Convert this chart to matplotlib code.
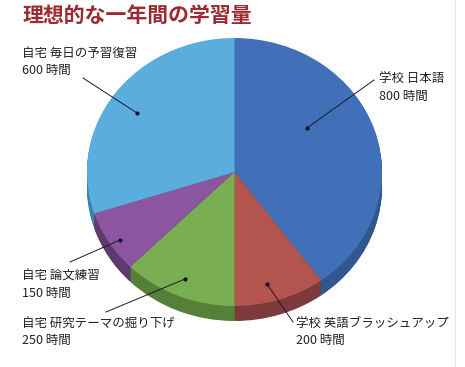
import matplotlib
matplotlib.use("Agg")
import matplotlib.pyplot as plt

plt.rcParams['font.family'] = ['Noto Sans CJK JP', 'DejaVu Sans']

# データ（時間）
categories = ["学校 日本語", "学校 英語ブラッシュアップ", "自宅 研究テーマの掘り下げ",
              "自宅 論文練習", "自宅 毎日の予習復習"]
hours = [800, 200, 250, 150, 600]
unit = "時間"
title = "理想的な一年間の学習量"

top_colors = ["#4170b8", "#b4544f", "#7aae52", "#8b55a0", "#5badde"]
side_colors = ["#30588f", "#7d3a3a", "#567f3a", "#5d3a6c", "#3f80aa"]

W, H = 465, 367
cx, cy, rx, ry, depth = 234.5, 172.0, 147.5, 134.0, 15

fig = plt.figure(figsize=(W / 100, H / 100), dpi=100)
fig.patch.set_facecolor("white")

# 円グラフ用の軸（楕円に引き伸ばす）
ax_pie = fig.add_axes([(cx - rx) / W, (H - (cy + ry + depth)) / H,
                       2 * rx / W, (2 * ry + depth) / H])
for k in range(depth, 0, -1):
    ax_pie.pie(hours, colors=side_colors, startangle=90, counterclock=False,
               center=(0, -k / ry), wedgeprops=dict(linewidth=0))
ax_pie.pie(hours, colors=top_colors, startangle=90, counterclock=False,
           wedgeprops=dict(linewidth=0))
ax_pie.set_aspect("auto")
ax_pie.set_xlim(-1, 1)
ax_pie.set_ylim(-1 - depth / ry, 1)
ax_pie.axis("off")

# 文字と引き出し線用の軸（ピクセル座標）
ax = fig.add_axes([0, 0, 1, 1])
ax.set_xlim(0, W)
ax.set_ylim(H, 0)
ax.axis("off")
ax.patch.set_alpha(0)

ax.text(22, 15, title, fontsize=15, fontweight="bold", color="#9b2b30",
        va="center", ha="left")

# ラベル位置（点, 線の端, 文字の左上）
label_layout = [
    ((307, 128), (374, 80), (379, 79)),
    ((267, 284), (293, 322), (296, 323)),
    ((185, 279), (106, 312), (22, 323)),
    ((120, 240), (70, 262), (22, 276)),
    ((137, 113), (83, 78), (22, 53)),
]
for name, val, (dot, end, txt) in zip(categories, hours, label_layout):
    ax.plot([dot[0], end[0]], [dot[1], end[1]], color="#1a1a2a", lw=0.7)
    ax.plot(dot[0], dot[1], "o", color="#101020", ms=2)
    ax.text(txt[0], txt[1], name, fontsize=9, color="#222222", va="center", ha="left")
    ax.text(txt[0], txt[1] + 17, f"{val} {unit}", fontsize=9, color="#222222",
            va="center", ha="left")

ax.plot([455, 455], [0, H], color="#e8e8e8", lw=0.8)

fig.savefig("out.png", dpi=100)
